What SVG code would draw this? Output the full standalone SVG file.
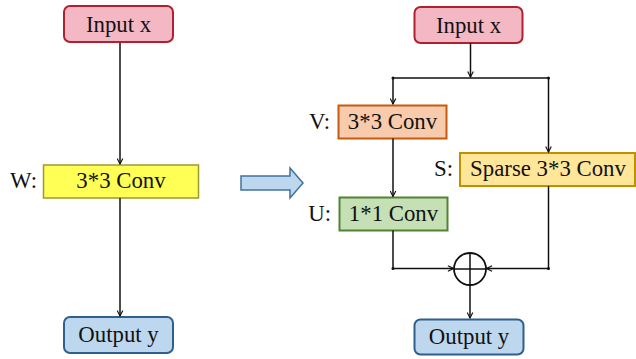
<svg xmlns="http://www.w3.org/2000/svg" width="636" height="359" viewBox="0 0 636 359">
  <style>
    text { font-family: "Liberation Serif", "Times New Roman", serif; font-size: 22.8px; fill: #111; }
    .mid { text-anchor: middle; }
    .lbl { text-anchor: end; }
    .wire { fill: none; stroke: #111; stroke-width: 1.5; }
    .input { fill: #F4B8C4; stroke: #B0202E; stroke-width: 2; }
    .output { fill: #BDD7EE; stroke: #2F5F8A; stroke-width: 2; }
    .w { fill: #FFFF55; stroke: #9A9A30; stroke-width: 1.5; }
    .v { fill: #F8CBAD; stroke: #C55A11; stroke-width: 2; }
    .u { fill: #C5E0B4; stroke: #548235; stroke-width: 2; }
    .s { fill: #FFE699; stroke: #C09000; stroke-width: 2; }
  </style>
  <defs>
    <marker id="arr" viewBox="0 0 10 10" refX="9" refY="5" markerWidth="7" markerHeight="7" orient="auto" markerUnits="userSpaceOnUse">
      <path d="M1,1 L9,5 L1,9" fill="none" stroke="#111" stroke-width="1.6"/>
    </marker>
  </defs>

  <!-- single-branch block -->
  <g id="left-input">
    <rect class="input" x="64" y="6" width="109" height="36" rx="6"/>
    <text class="mid" x="118.5" y="32">Input x</text>
  </g>
  <g id="left-w">
    <rect class="w" x="43.5" y="165" width="155" height="33"/>
    <text class="mid" x="121" y="188">3*3 Conv</text>
    <text class="lbl" x="37" y="188">W:</text>
  </g>
  <g id="left-output">
    <rect class="output" x="64" y="317" width="109" height="36" rx="6"/>
    <text class="mid" x="118.5" y="342">Output y</text>
  </g>

  <!-- transformation arrow -->
  <g id="transform-arrow">
    <path d="M241,176 L290,176 L290,168 L303,183 L290,198 L290,190 L241,190 Z" fill="#BDD7EE" stroke="#41719C" stroke-width="1.5"/>
  </g>

  <!-- decomposed block -->
  <g id="right-input">
    <rect class="input" x="414.5" y="7" width="108" height="36" rx="6"/>
    <text class="mid" x="468.5" y="33">Input x</text>
  </g>
  <g id="right-v">
    <rect class="v" x="338.5" y="105.5" width="108" height="33"/>
    <text class="mid" x="392.5" y="129">3*3 Conv</text>
    <text class="lbl" x="330" y="129">V:</text>
  </g>
  <g id="right-u">
    <rect class="u" x="339.5" y="197.5" width="108" height="33"/>
    <text class="mid" x="393.5" y="221">1*1 Conv</text>
    <text class="lbl" x="331" y="221">U:</text>
  </g>
  <g id="right-s">
    <rect class="s" x="460" y="153" width="175" height="33"/>
    <text class="mid" x="548" y="176">Sparse 3*3 Conv</text>
    <text class="lbl" x="453" y="176">S:</text>
  </g>
  <g id="sum">
    <circle cx="470" cy="269" r="16" fill="#fff" stroke="#111" stroke-width="1.8"/>
    <path d="M470,253 V285 M454,269 H486" stroke="#111" stroke-width="1.5"/>
  </g>
  <g id="right-output">
    <rect class="output" x="414.5" y="319.5" width="109" height="35" rx="6"/>
    <text class="mid" x="469" y="344">Output y</text>
  </g>

  <g id="connectors">
    <!-- left -->
    <path class="wire" d="M120,43 V164" marker-end="url(#arr)"/>
    <path class="wire" d="M120,198 V316" marker-end="url(#arr)"/>
    <!-- right: split -->
    <path class="wire" d="M470.5,43 V77" marker-end="url(#arr)"/>
    <path class="wire" d="M393,78 H548.5"/>
    <path class="wire" d="M393,78 V104" marker-end="url(#arr)"/>
    <path class="wire" d="M548.5,78 V152" marker-end="url(#arr)"/>
    <!-- V to U -->
    <path class="wire" d="M393,138.5 V196.5" marker-end="url(#arr)"/>
    <!-- U and S into sum -->
    <path class="wire" d="M393,230.5 V268.5 H453.5" marker-end="url(#arr)"/>
    <path class="wire" d="M548.5,186 V268.5 H486.5" marker-end="url(#arr)"/>
    <!-- sum to output -->
    <path class="wire" d="M470,285 V318" marker-end="url(#arr)"/>
    <circle cx="393" cy="78" r="1.5" fill="#111"/>
    <circle cx="548.5" cy="78" r="1.5" fill="#111"/>
    <circle cx="393" cy="268.5" r="1.5" fill="#111"/>
    <circle cx="548.5" cy="268.5" r="1.5" fill="#111"/>
  </g>
</svg>
